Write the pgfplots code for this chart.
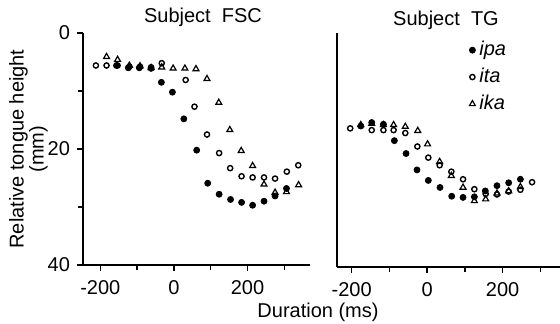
\documentclass[border=0pt]{standalone}
\usepackage{pgfplots}
\pgfplotsset{compat=1.18}
\usepackage{fontspec}
\setmainfont{Liberation Sans}
\pgfplotstableread{
x y
-156 5.6
-124 6.0
-94 6.0
-62 6.1
-34 8.5
-4 10.2
27 14.8
62 20.2
92 25.9
123 27.8
154 28.7
184 29.2
214 29.7
245 29.0
275 28.1
306 26.8
}\FSCipa
\pgfplotstableread{
x y
-212 5.6
-183 5.6
-153 5.6
-121 5.8
-92 5.8
-62 5.9
-33 5.2
32 8.1
56 12.7
90 17.5
123 20.7
153 23.3
184 24.7
214 24.9
245 24.9
275 25.1
307 23.9
338 22.8
}\FSCita
\pgfplotstableread{
x y
-183 4.1
-153 4.6
-121 5.6
-92 5.7
-62 6.0
-33 5.9
-2 6.1
30 6.1
60 6.2
90 7.9
122 12.0
152 16.7
183 20.3
214 22.9
245 26.1
275 27.5
306 27.4
339 26.2
}\FSCika
\pgfplotstableread{
x y
-176 15.9
-147 15.3
-116 15.6
-87 18.4
-56 20.6
-27 23.4
3 25.2
34 26.4
65 27.9
95 28.1
125 28.0
154 27.0
185 26.1
216 25.6
247 25.0
}\TGipa
\pgfplotstableread{
x y
-204 16.3
-147 16.6
-116 16.6
-89 16.6
-58 17.1
-26 19.4
3 21.3
33 22.6
64 23.7
95 25.0
125 26.7
155 27.5
185 27.6
216 27.1
247 26.8
278 25.5
}\TGita
\pgfplotstableread{
x y
-176 15.7
-147 15.5
-116 15.7
-89 15.7
-58 16.0
-25 16.7
1 19.0
33 22.0
64 24.4
95 26.4
125 28.7
155 28.4
185 27.4
216 27.0
247 26.3
}\TGika
\begin{document}
\begin{tikzpicture}
\path[use as bounding box] (0pt,0pt) rectangle (280pt,-161.5pt);
\pgfplotsset{
  every axis/.append style={
    scale only axis,
    font=\fontsize{10}{12}\selectfont,
    y dir=reverse, ymin=0, ymax=40,
    axis x line=bottom, axis y line=left,
    axis line style={line width=0.9pt, -},
    tick style={line width=0.7pt, black},
    tick align=outside,
    major tick length=3pt, minor tick length=2.5pt,
    /pgf/number format/assume math mode=true,
    xtick={-200,0,200},
    minor xtick={-100,100,300},
    xticklabel style={yshift=-1pt},
    clip=false,
  },
  ipa/.style={only marks, mark=*, mark size=1.5pt, black},
  ita/.style={only marks, mark=o, mark size=1.3pt, black, mark options={line width=0.7pt}},
  ika/.style={only marks, mark=triangle, mark size=1.7pt, black, mark options={line width=0.6pt}},
}
\begin{axis}[
  at={(41.5pt,-16.5pt)}, anchor=north west,
  width=113.5pt, height=116pt,
  xmin=-247, xmax=370,
  ytick={0,20,40}, minor ytick={10,30},
  ylabel={Relative tongue height\\(mm)},
  ylabel style={align=center, at={(axis description cs:-0.24,0.5)}, anchor=center, font=\fontsize{10}{10}\selectfont},
]
\addplot[ipa] table {\FSCipa};
\addplot[ita] table {\FSCita};
\addplot[ika] table {\FSCika};
\end{axis}
\begin{axis}[
  at={(168.5pt,-16.5pt)}, anchor=north west,
  width=111.5pt, height=117pt,
  xmin=-239, xmax=352,
  ytick=\empty,
  legend style={at={(0.565,1.0)}, anchor=north west, draw=none, fill=none,
    font=\itshape\fontsize{10}{12}\selectfont, row sep=0.7pt},
  legend cell align=left,
]
\addplot[ipa] table {\TGipa};
\addplot[ita] table {\TGita};
\addplot[ika] table {\TGika};
\legend{ipa,ita,ika}
\end{axis}
\node at (101.5pt,-8.5pt) {\fontsize{10}{12}\selectfont Subject\ \ FSC};
\node at (223pt,-10pt) {\fontsize{10}{12}\selectfont Subject\ \ TG};
\node[anchor=base] at (159pt,-158.5pt) {\fontsize{10}{12}\selectfont Duration (ms)};
\end{tikzpicture}
\end{document}
